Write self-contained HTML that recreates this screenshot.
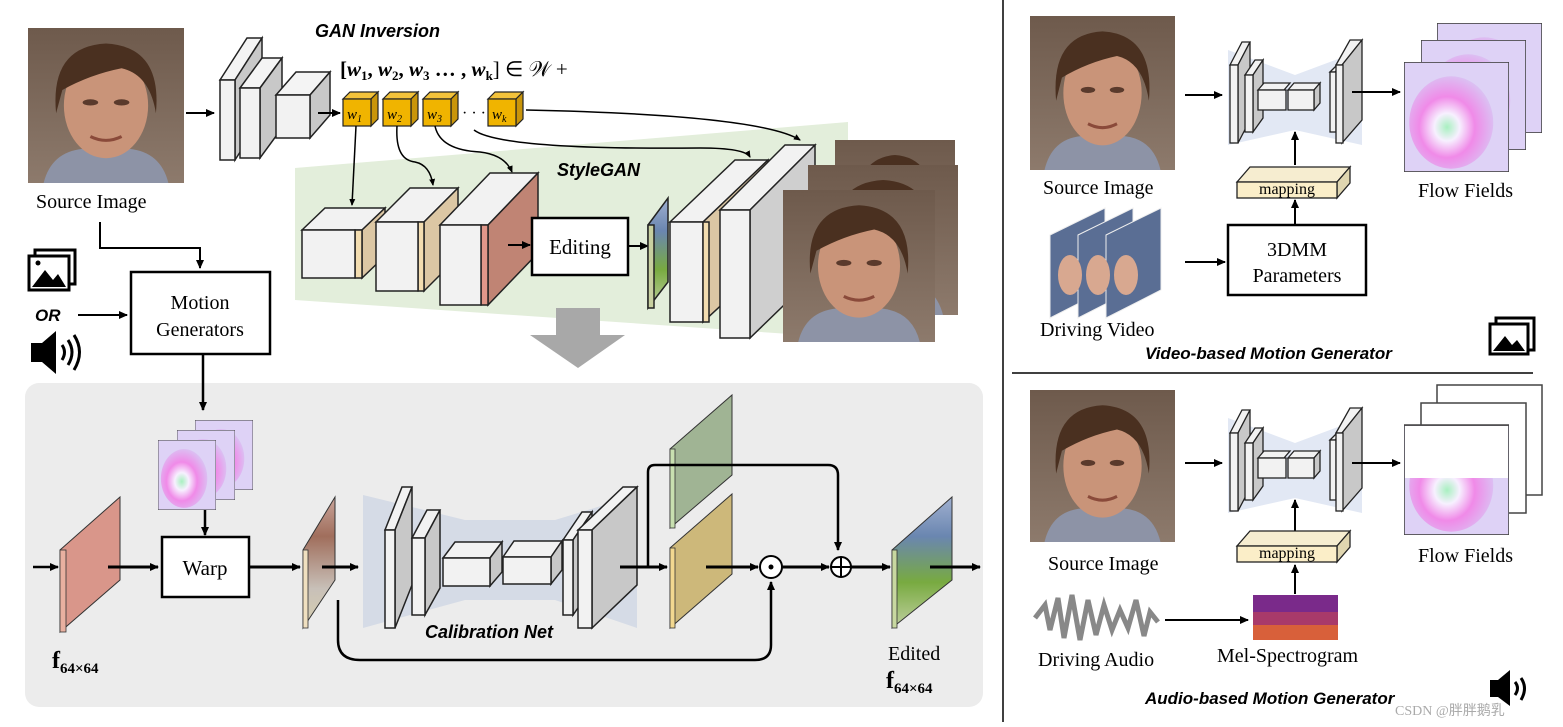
<!DOCTYPE html>
<html><head><meta charset="utf-8"><style>
html,body{margin:0;padding:0;background:#fff;}
svg{display:block;}
text{font-family:"Liberation Serif",serif;}
.it{font-family:"Liberation Sans",sans-serif;font-style:italic;font-weight:bold;}
</style></head><body>
<svg width="1563" height="727" viewBox="0 0 1563 727" xmlns="http://www.w3.org/2000/svg">
<defs>
<marker id="ah" markerWidth="10" markerHeight="10" refX="8" refY="5" orient="auto" markerUnits="userSpaceOnUse"><path d="M0,1 L9,5 L0,9 z" fill="#000"/></marker>
<marker id="as" markerWidth="8" markerHeight="8" refX="6" refY="4" orient="auto" markerUnits="userSpaceOnUse"><path d="M0,1 L7,4 L0,7 z" fill="#000"/></marker>
<linearGradient id="bg" x1="0" y1="0" x2="0" y2="1"><stop offset="0" stop-color="#6e5a4c"/><stop offset="1" stop-color="#8d7a6c"/></linearGradient>
<symbol id="face" viewBox="0 0 100 100" preserveAspectRatio="none">
<rect width="100" height="100" fill="url(#bg)"/>
<path d="M10,100 Q15,80 35,78 L65,78 Q85,80 90,100z" fill="#8d93a6"/>
<ellipse cx="50" cy="50" rx="27" ry="34" fill="#c99479"/>
<path d="M18,55 Q14,12 50,10 Q86,12 82,55 Q78,30 60,26 Q40,30 22,40z" fill="#4a3020"/>
<ellipse cx="40" cy="48" rx="5" ry="2" fill="#5a3a2c"/><ellipse cx="60" cy="48" rx="5" ry="2" fill="#5a3a2c"/>
<path d="M40,70 Q50,75 60,70" stroke="#8a4a3a" stroke-width="2" fill="none"/>
</symbol>
<radialGradient id="fl" cx="0.45" cy="0.55" r="0.6"><stop offset="0" stop-color="#a8f0c0"/><stop offset="0.25" stop-color="#f7f0ff"/><stop offset="0.55" stop-color="#f08ae8"/><stop offset="1" stop-color="#d8c8f4"/></radialGradient>
<symbol id="flow" viewBox="0 0 100 100" preserveAspectRatio="none">
<rect width="100" height="100" fill="#ded2f6"/>
<ellipse cx="45" cy="55" rx="40" ry="42" fill="url(#fl)"/>
<rect x="0" y="0" width="100" height="100" fill="none" stroke="#444" stroke-width="1.5"/>
</symbol>
<linearGradient id="gplate" x1="0" y1="0" x2="0" y2="1"><stop offset="0" stop-color="#c9a49a"/><stop offset="0.3" stop-color="#a06e5c"/><stop offset="0.7" stop-color="#c8c0b8"/><stop offset="1" stop-color="#d8d0b0"/></linearGradient>
<linearGradient id="bgreen" x1="0" y1="0" x2="0" y2="1"><stop offset="0" stop-color="#a0b0d0"/><stop offset="0.3" stop-color="#6a86b0"/><stop offset="0.65" stop-color="#78aa40"/><stop offset="1" stop-color="#c0d0a0"/></linearGradient>
</defs>

<!-- top-left face -->
<use href="#face" x="28" y="28" width="156" height="155"/>
<text x="36" y="208" font-size="20">Source Image</text>
<line x1="186" y1="113" x2="214" y2="113" stroke="#000" stroke-width="2" marker-end="url(#ah)"/>

<!-- GAN encoder -->
<g stroke="#222" stroke-width="1.5">
<polygon points="220,80 247,38 262,38 235,80" fill="#f4f4f4"/><polygon points="235,80 262,38 262,118 235,160" fill="#c8c8c8"/><rect x="220" y="80" width="15" height="80" fill="#f2f2f2"/>
<polygon points="240,88 262,58 282,58 260,88" fill="#f4f4f4"/><polygon points="260,88 282,58 282,128 260,158" fill="#c8c8c8"/><rect x="240" y="88" width="20" height="70" fill="#f2f2f2"/>
<polygon points="276,95 296,72 330,72 310,95" fill="#f4f4f4"/><polygon points="310,95 330,72 330,115 310,138" fill="#c8c8c8"/><rect x="276" y="95" width="34" height="43" fill="#f2f2f2"/>
</g>
<line x1="318" y1="113" x2="340" y2="113" stroke="#000" stroke-width="2" marker-end="url(#ah)"/>
<text x="315" y="37" class="it" font-size="18">GAN Inversion</text>
<text x="340" y="76" font-size="21" font-weight="bold">[<tspan font-style="italic">w</tspan><tspan font-size="13" dy="4">1</tspan><tspan dy="-4">, </tspan><tspan font-style="italic">w</tspan><tspan font-size="13" dy="4">2</tspan><tspan dy="-4">, </tspan><tspan font-style="italic">w</tspan><tspan font-size="13" dy="4">3</tspan><tspan dy="-4"> … , </tspan><tspan font-style="italic">w</tspan><tspan font-size="13" dy="4">k</tspan><tspan dy="-4" font-weight="normal">] ∈ 𝒲 +</tspan></text>

<!-- cubes -->
<g stroke="#222" stroke-width="1.2">
<g><polygon points="343,99 350,92 378,92 371,99" fill="#f3c23a"/><polygon points="371,99 378,92 378,119 371,126" fill="#c9950a"/><rect x="343" y="99" width="28" height="27" fill="#f0b400"/></g>
<g><polygon points="383,99 390,92 418,92 411,99" fill="#f3c23a"/><polygon points="411,99 418,92 418,119 411,126" fill="#c9950a"/><rect x="383" y="99" width="28" height="27" fill="#f0b400"/></g>
<g><polygon points="423,99 430,92 458,92 451,99" fill="#f3c23a"/><polygon points="451,99 458,92 458,119 451,126" fill="#c9950a"/><rect x="423" y="99" width="28" height="27" fill="#f0b400"/></g>
<g><polygon points="488,99 495,92 523,92 516,99" fill="#f3c23a"/><polygon points="516,99 523,92 523,119 516,126" fill="#c9950a"/><rect x="488" y="99" width="28" height="27" fill="#f0b400"/></g>
</g>
<g font-size="15" font-style="italic" font-family="Liberation Serif"><text x="347" y="119">w<tspan font-size="10" dy="3">1</tspan></text><text x="387" y="119">w<tspan font-size="10" dy="3">2</tspan></text><text x="427" y="119">w<tspan font-size="10" dy="3">3</tspan></text><text x="492" y="119">w<tspan font-size="10" dy="3">k</tspan></text></g>
<text x="462" y="118" font-size="16">·  ·  ·</text>

<!-- green StyleGAN background -->
<polygon points="295,168 848,122 848,338 295,300" fill="#e3eedb"/>
<text x="557" y="176" class="it" font-size="18">StyleGAN</text>

<!-- curves from w -->
<g fill="none" stroke="#000" stroke-width="1.5">
<path d="M356,126 L352,205" marker-end="url(#as)"/>
<path d="M397,126 Q395,160 415,162 Q430,165 433,185" marker-end="url(#as)"/>
<path d="M435,126 Q440,150 480,152 Q505,155 512,172" marker-end="url(#as)"/>
<path d="M474,130 Q500,150 700,148 Q745,148 750,157" marker-end="url(#as)"/>
<path d="M526,110 Q760,115 800,140" marker-end="url(#as)"/>
</g>

<!-- StyleGAN blocks -->
<g stroke="#222" stroke-width="1.5">
<polygon points="302,230 325,208 385,208 362,230" fill="#f2f2f2"/><polygon points="362,230 385,208 385,256 362,278" fill="#dcc7a4"/><rect x="355" y="230" width="7" height="48" fill="#f3ddb0"/><rect x="302" y="230" width="53" height="48" fill="#f2f2f2"/>
<polygon points="376,222 410,188 458,188 424,222" fill="#f2f2f2"/><polygon points="424,222 458,188 458,257 424,291" fill="#dcc7a4"/><rect x="418" y="222" width="6" height="69" fill="#f3ddb0"/><rect x="376" y="222" width="42" height="69" fill="#f2f2f2"/>
<polygon points="440,225 490,173 538,173 488,225" fill="#f2f2f2"/><polygon points="488,225 538,173 538,253 488,305" fill="#c08474"/><rect x="481" y="225" width="7" height="80" fill="#e0978a"/><rect x="440" y="225" width="41" height="80" fill="#f2f2f2"/>
</g>
<line x1="508" y1="245" x2="530" y2="245" stroke="#000" stroke-width="2" marker-end="url(#ah)"/>
<rect x="532" y="218" width="96" height="57" fill="#fff" stroke="#000" stroke-width="2.5"/>
<text x="580" y="254" font-size="21" text-anchor="middle">Editing</text>
<line x1="628" y1="246" x2="648" y2="246" stroke="#000" stroke-width="2" marker-end="url(#ah)"/>

<g stroke="#222" stroke-width="1.5">
<polygon points="648,225 668,198 668,282 648,308" fill="url(#bgreen)"/><rect x="648" y="225" width="6" height="83" fill="#c8d0a0"/>
<polygon points="670,222 735,160 768,160 703,222" fill="#f2f2f2"/><polygon points="703,222 768,160 768,262 703,322" fill="#dcc7a4"/><rect x="670" y="222" width="33" height="100" fill="#f2f2f2"/><rect x="703" y="222" width="6" height="100" fill="#f3ddb0"/>
<polygon points="720,210 785,145 815,145 750,210" fill="#f2f2f2"/><polygon points="750,210 815,145 815,275 750,338" fill="#cfcfcf"/><rect x="720" y="210" width="30" height="128" fill="#f2f2f2"/>
</g>
<use href="#face" x="835" y="140" width="120" height="150"/>
<use href="#face" x="808" y="165" width="150" height="150"/>
<use href="#face" x="783" y="190" width="152" height="152"/>

<!-- gray arrow -->
<polygon points="556,308 600,308 600,335 625,335 578,368 530,335 556,335" fill="#a8a8a8"/>

<!-- left column -->
<path d="M100,222 V248 H200 V268" fill="none" stroke="#000" stroke-width="2" marker-end="url(#ah)"/>
<g>
<rect x="35" y="250" width="40" height="34" fill="none" stroke="#000" stroke-width="3"/>
<rect x="29" y="256" width="40" height="34" fill="#fff" stroke="#000" stroke-width="3"/>
<polygon points="32,287 45,270 53,280 58,274 66,287" fill="#000"/><circle cx="38" cy="263" r="2.5" fill="#000"/>
</g>
<text x="35" y="321" class="it" font-size="17">OR</text>
<line x1="78" y1="315" x2="127" y2="315" stroke="#000" stroke-width="2" marker-end="url(#ah)"/>
<g>
<polygon points="31,343 42,343 56,331 56,374 42,362 31,362" fill="#000"/>
<path d="M62,345 Q67,352 62,360" stroke="#000" stroke-width="3" fill="none"/>
<path d="M68,340 Q76,352 68,365" stroke="#000" stroke-width="3" fill="none"/>
<path d="M74,335 Q85,352 74,370" stroke="#000" stroke-width="3" fill="none"/>
</g>
<rect x="131" y="272" width="139" height="82" fill="#fff" stroke="#000" stroke-width="2.5"/>
<text x="200" y="309" font-size="20" text-anchor="middle">Motion</text>
<text x="200" y="336" font-size="20" text-anchor="middle">Generators</text>

<!-- bottom panel -->
<rect x="25" y="383" width="958" height="324" rx="14" fill="#ececec"/>
<line x1="203" y1="354" x2="203" y2="410" stroke="#000" stroke-width="2.5" marker-end="url(#ah)"/>
<use href="#flow" x="195" y="420" width="58" height="70"/>
<use href="#flow" x="177" y="430" width="58" height="70"/>
<use href="#flow" x="158" y="440" width="58" height="70"/>
<line x1="205" y1="510" x2="205" y2="535" stroke="#000" stroke-width="2.5" marker-end="url(#ah)"/>
<rect x="162" y="537" width="87" height="60" fill="#fff" stroke="#000" stroke-width="2.5"/>
<text x="205" y="575" font-size="21" text-anchor="middle">Warp</text>

<line x1="33" y1="567" x2="58" y2="567" stroke="#000" stroke-width="2.5" marker-end="url(#ah)"/>
<polygon points="60,550 120,497 120,580 60,632" fill="#d9968a" stroke="#333" stroke-width="1"/><rect x="60" y="550" width="6" height="82" fill="#e8b0a0" stroke="#333" stroke-width="0.8"/>
<line x1="108" y1="567" x2="158" y2="567" stroke="#000" stroke-width="3" marker-end="url(#ah)"/>
<line x1="249" y1="567" x2="300" y2="567" stroke="#000" stroke-width="3" marker-end="url(#ah)"/>
<text x="52" y="668" font-size="24" font-weight="bold">f<tspan font-size="15" dy="5">64×64</tspan></text>

<polygon points="303,550 335,497 335,580 303,628" fill="url(#gplate)" stroke="#333" stroke-width="1"/><rect x="303" y="550" width="5" height="78" fill="#f0e0c0" stroke="#333" stroke-width="0.8"/>
<line x1="322" y1="567" x2="358" y2="567" stroke="#000" stroke-width="3" marker-end="url(#ah)"/>

<!-- calibration net -->
<polygon points="363,495 465,520 555,520 637,495 637,628 555,600 465,600 363,628" fill="#d5dbe6"/>
<g stroke="#222" stroke-width="1.5">
<polygon points="385,530 402,487 412,487 395,530" fill="#f2f2f2"/><polygon points="395,530 412,487 412,585 395,628" fill="#c8c8c8"/><rect x="385" y="530" width="10" height="98" fill="#f2f2f2"/>
<polygon points="412,538 427,510 440,510 425,538" fill="#f2f2f2"/><polygon points="425,538 440,510 440,588 425,615" fill="#c8c8c8"/><rect x="412" y="538" width="13" height="77" fill="#f2f2f2"/>
<polygon points="443,558 455,542 502,542 490,558" fill="#f2f2f2"/><polygon points="490,558 502,542 502,572 490,586" fill="#c8c8c8"/><rect x="443" y="558" width="47" height="28" fill="#f2f2f2"/>
<polygon points="503,557 514,541 562,541 551,557" fill="#f2f2f2"/><polygon points="551,557 562,541 562,570 551,584" fill="#c8c8c8"/><rect x="503" y="557" width="48" height="27" fill="#f2f2f2"/>
<polygon points="563,540 582,512 592,512 573,540" fill="#f2f2f2"/><polygon points="573,540 592,512 592,588 573,615" fill="#c8c8c8"/><rect x="563" y="540" width="10" height="75" fill="#f2f2f2"/>
<polygon points="578,530 623,487 637,487 592,530" fill="#f2f2f2"/><polygon points="592,530 637,487 637,585 592,628" fill="#c8c8c8"/><rect x="578" y="530" width="14" height="98" fill="#f2f2f2"/>
</g>
<text x="425" y="638" class="it" font-size="18">Calibration Net</text>

<polygon points="670,449 732,395 732,475 670,528" fill="#a0b494" stroke="#333" stroke-width="1"/><rect x="670" y="449" width="5" height="79" fill="#c8e0b0" stroke="#333" stroke-width="0.8"/>
<polygon points="670,548 732,494 732,574 670,628" fill="#cdb87a" stroke="#333" stroke-width="1"/><rect x="670" y="548" width="5" height="80" fill="#f2d890" stroke="#333" stroke-width="0.8"/>

<line x1="620" y1="567" x2="667" y2="567" stroke="#000" stroke-width="3" marker-end="url(#ah)"/>
<path d="M648,567 V472 Q648,465 655,465 H828 Q838,465 838,475 V550" fill="none" stroke="#000" stroke-width="2.5" marker-end="url(#ah)"/>
<line x1="706" y1="567" x2="758" y2="567" stroke="#000" stroke-width="3" marker-end="url(#ah)"/>
<circle cx="771" cy="567" r="11" fill="#fff" stroke="#000" stroke-width="2"/><circle cx="771" cy="567" r="2.5" fill="#000"/>
<line x1="782" y1="567" x2="829" y2="567" stroke="#000" stroke-width="3" marker-end="url(#ah)"/>
<circle cx="841" cy="567" r="10" fill="#fff" stroke="#000" stroke-width="2"/><line x1="831" y1="567" x2="851" y2="567" stroke="#000" stroke-width="2"/><line x1="841" y1="557" x2="841" y2="577" stroke="#000" stroke-width="2"/>
<line x1="851" y1="567" x2="890" y2="567" stroke="#000" stroke-width="3" marker-end="url(#ah)"/>
<path d="M338,600 V640 Q338,660 360,660 H755 Q771,660 771,645 V582" fill="none" stroke="#000" stroke-width="2.5" marker-end="url(#ah)"/>
<polygon points="892,550 952,497 952,580 892,628" fill="url(#bgreen)" stroke="#333" stroke-width="1"/><rect x="892" y="550" width="5" height="78" fill="#c8d8a0" stroke="#333" stroke-width="0.8"/>
<line x1="930" y1="567" x2="980" y2="567" stroke="#000" stroke-width="3" marker-end="url(#ah)"/>
<text x="888" y="660" font-size="20">Edited</text>
<text x="886" y="688" font-size="24" font-weight="bold">f<tspan font-size="15" dy="5">64×64</tspan></text>

<!-- right side -->
<line x1="1003" y1="0" x2="1003" y2="722" stroke="#000" stroke-width="1.5"/>
<line x1="1012" y1="373" x2="1533" y2="373" stroke="#000" stroke-width="1.5"/>

<use href="#face" x="1030" y="16" width="145" height="154"/>
<text x="1043" y="194" font-size="20">Source Image</text>
<line x1="1185" y1="95" x2="1222" y2="95" stroke="#000" stroke-width="2" marker-end="url(#ah)"/>
<g id="enc">
<polygon points="1228,50 1295,75 1362,50 1362,145 1295,130 1228,145" fill="#e2e8f4"/>
<g stroke="#222" stroke-width="1.3">
<polygon points="1230,65 1242,42 1250,42 1238,65" fill="#f2f2f2"/><polygon points="1238,65 1250,42 1250,120 1238,143" fill="#c8c8c8"/><rect x="1230" y="65" width="8" height="78" fill="#f2f2f2"/>
<polygon points="1245,75 1255,60 1263,60 1253,75" fill="#f2f2f2"/><polygon points="1253,75 1263,60 1263,118 1253,132" fill="#c8c8c8"/><rect x="1245" y="75" width="8" height="57" fill="#f2f2f2"/>
<polygon points="1258,90 1264,83 1290,83 1284,90" fill="#f2f2f2"/><rect x="1258" y="90" width="28" height="20" fill="#f2f2f2"/>
<polygon points="1288,90 1294,83 1320,83 1314,90" fill="#f2f2f2"/><polygon points="1314,90 1320,83 1320,103 1314,110" fill="#c8c8c8"/><rect x="1288" y="90" width="26" height="20" fill="#f2f2f2"/>
<polygon points="1330,72 1342,60 1345,60 1335,72" fill="#f2f2f2"/><rect x="1330" y="72" width="6" height="60" fill="#f2f2f2"/>
<polygon points="1336,65 1350,40 1362,40 1342,65" fill="#f2f2f2"/><polygon points="1342,65 1362,40 1362,120 1342,143" fill="#c8c8c8"/><rect x="1336" y="65" width="7" height="78" fill="#f2f2f2"/>
</g>
</g>
<line x1="1352" y1="92" x2="1400" y2="92" stroke="#000" stroke-width="2" marker-end="url(#ah)"/>
<use href="#flow" x="1437" y="23" width="105" height="110"/>
<use href="#flow" x="1421" y="40" width="105" height="110"/>
<use href="#flow" x="1404" y="62" width="105" height="110"/>
<text x="1418" y="197" font-size="20">Flow Fields</text>
<line x1="1295" y1="165" x2="1295" y2="132" stroke="#000" stroke-width="2" marker-end="url(#ah)"/>
<g stroke="#222" stroke-width="1.3"><polygon points="1237,182 1250,167 1350,167 1337,182" fill="#f6edd0"/><polygon points="1337,182 1350,167 1350,183 1337,198" fill="#e0d6b0"/><rect x="1237" y="182" width="100" height="16" fill="#fbeec8"/></g>
<text x="1287" y="194" font-size="16" text-anchor="middle">mapping</text>
<line x1="1295" y1="225" x2="1295" y2="200" stroke="#000" stroke-width="2" marker-end="url(#ah)"/>
<rect x="1228" y="225" width="138" height="70" fill="#fff" stroke="#000" stroke-width="2.5"/>
<text x="1297" y="256" font-size="20" text-anchor="middle">3DMM</text>
<text x="1297" y="282" font-size="20" text-anchor="middle">Parameters</text>
<g stroke="#eee" stroke-width="1">
<polygon points="1050,235 1105,208 1105,290 1050,318" fill="#5a6e94"/>
<polygon points="1078,235 1133,208 1133,290 1078,318" fill="#5a6e94"/>
<polygon points="1106,235 1161,208 1161,290 1106,318" fill="#5a6e94"/>
</g>
<ellipse cx="1070" cy="275" rx="12" ry="20" fill="#d8a890"/><ellipse cx="1098" cy="275" rx="12" ry="20" fill="#d8a890"/><ellipse cx="1126" cy="275" rx="12" ry="20" fill="#d8a890"/>
<line x1="1185" y1="262" x2="1225" y2="262" stroke="#000" stroke-width="2" marker-end="url(#ah)"/>
<text x="1040" y="336" font-size="20">Driving Video</text>
<text x="1145" y="359" class="it" font-size="17">Video-based Motion Generator</text>
<g><rect x="1496" y="318" width="38" height="32" fill="none" stroke="#000" stroke-width="3"/><rect x="1490" y="324" width="38" height="30" fill="#fff" stroke="#000" stroke-width="3"/><polygon points="1493,351 1505,336 1512,345 1517,340 1525,351" fill="#000"/></g>

<use href="#face" x="1030" y="390" width="145" height="152"/>
<text x="1048" y="570" font-size="20">Source Image</text>
<line x1="1185" y1="463" x2="1222" y2="463" stroke="#000" stroke-width="2" marker-end="url(#ah)"/>
<use href="#enc" transform="translate(0,368)"/>
<line x1="1352" y1="463" x2="1400" y2="463" stroke="#000" stroke-width="2" marker-end="url(#ah)"/>
<rect x="1437" y="385" width="105" height="110" fill="#fff" stroke="#444" stroke-width="1.5"/>
<rect x="1421" y="403" width="105" height="110" fill="#fff" stroke="#444" stroke-width="1.5"/>
<use href="#flow" x="1404" y="425" width="105" height="110"/>
<rect x="1405" y="426" width="103" height="52" fill="#fff"/>
<line x1="1404" y1="425" x2="1509" y2="425" stroke="#444" stroke-width="1.5"/>
<text x="1418" y="562" font-size="20">Flow Fields</text>
<line x1="1295" y1="533" x2="1295" y2="500" stroke="#000" stroke-width="2" marker-end="url(#ah)"/>
<g stroke="#222" stroke-width="1.3"><polygon points="1237,546 1250,531 1350,531 1337,546" fill="#f6edd0"/><polygon points="1337,546 1350,531 1350,547 1337,562" fill="#e0d6b0"/><rect x="1237" y="546" width="100" height="16" fill="#fbeec8"/></g>
<text x="1287" y="558" font-size="16" text-anchor="middle">mapping</text>
<line x1="1295" y1="594" x2="1295" y2="565" stroke="#000" stroke-width="2" marker-end="url(#ah)"/>
<rect x="1253" y="595" width="85" height="45" fill="#7a2a8a"/><rect x="1253" y="625" width="85" height="15" fill="#d8603a"/><rect x="1253" y="612" width="85" height="13" fill="#a83a6a"/>
<path d="M1035,618 L1045,605 L1050,630 L1058,598 L1064,638 L1072,595 L1080,640 L1088,600 L1096,635 L1104,605 L1112,630 L1120,610 L1128,628 L1136,600 L1144,636 L1150,612 L1158,622" fill="none" stroke="#888" stroke-width="5"/>
<line x1="1165" y1="620" x2="1248" y2="620" stroke="#000" stroke-width="2" marker-end="url(#ah)"/>
<text x="1038" y="666" font-size="20">Driving Audio</text>
<text x="1217" y="662" font-size="20">Mel-Spectrogram</text>
<text x="1145" y="704" class="it" font-size="17">Audio-based Motion Generator</text>
<g><polygon points="1490,680 1498,680 1510,670 1510,706 1498,697 1490,697" fill="#000"/><path d="M1515,682 Q1520,688 1515,695" stroke="#000" stroke-width="3" fill="none"/><path d="M1521,678 Q1528,688 1521,700" stroke="#000" stroke-width="3" fill="none"/></g>
<text x="1395" y="715" font-size="14" fill="#aaa" font-family="Liberation Sans, Noto Sans CJK SC, sans-serif">CSDN @胖胖鹅乳</text>
</svg>
</body></html>
